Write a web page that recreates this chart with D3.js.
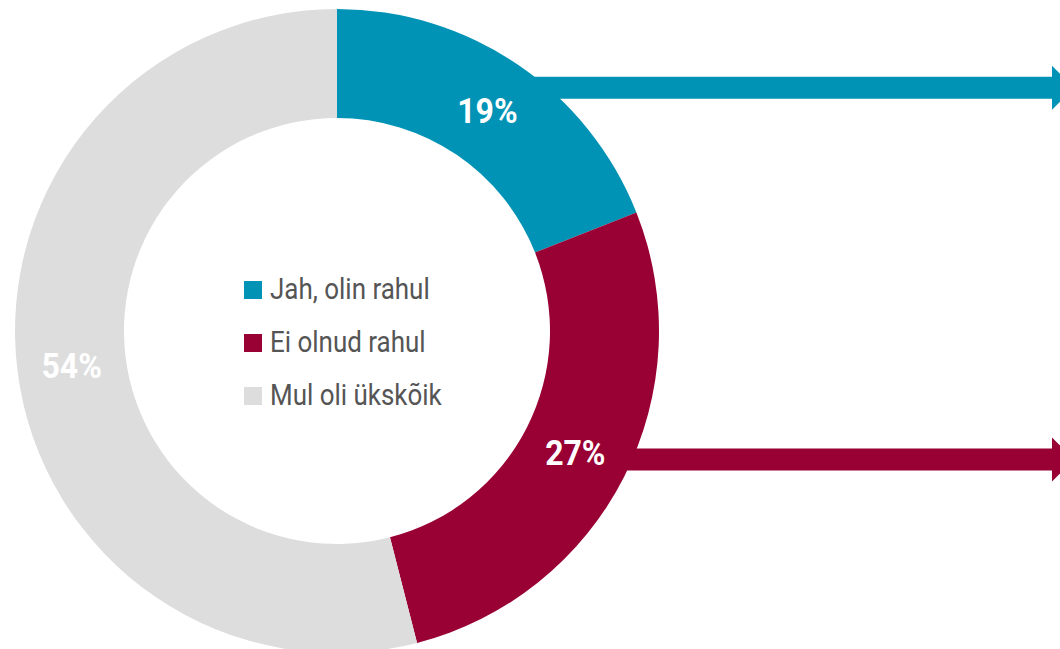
<!DOCTYPE html>
<html><head><meta charset="utf-8">
<script src="https://cdn.jsdelivr.net/npm/d3@7"></script>
<style>
html,body{margin:0;padding:0;background:#fff;}
svg{display:block;}
</style></head>
<body>
<svg id="chart" width="1060" height="649"></svg>
<script>
const categories = ["Jah, olin rahul", "Ei olnud rahul", "Mul oli ükskõik"];
const values = [19, 27, 54];
const colors = ["#0093b5", "#990033", "#dddddd"];
const arrowFor = [true, true, false];

const W = 1060, H = 649;
const cx = 337, cy = 331, rOuter = 322, rInner = 213;
const svg = d3.select("#chart");
const g = svg.append("g").attr("transform", `translate(${cx},${cy})`);

const pie = d3.pie().sort(null).value(d => d.v);
const data = pie(categories.map((c, i) => ({c, v: values[i], color: colors[i], arrow: arrowFor[i]})));
const arc = d3.arc().innerRadius(rInner).outerRadius(rOuter);
const labelArc = d3.arc().innerRadius((rInner + rOuter) / 2).outerRadius((rInner + rOuter) / 2);

g.selectAll("path.slice").data(data).join("path")
  .attr("class", "slice")
  .attr("d", arc)
  .attr("fill", d => d.data.color);

// arrows
const headStart = 1052 - cx;
const arrowOffsets = [-22, 7];
data.filter(d => d.data.arrow).forEach((d, k) => {
  const [lx, ly] = labelArc.centroid(d);
  const yc = ly + arrowOffsets[k];
  const half = 11, headHalf = 22;
  g.append("path")
    .attr("d", `M${lx},${yc - half}L${headStart},${yc - half}L${headStart},${yc - headHalf}L${headStart + 22},${yc}L${headStart},${yc + headHalf}L${headStart},${yc + half}L${lx},${yc + half}Z`)
    .attr("fill", d.data.color);
});

const fmt = d3.format(".0f");
g.selectAll("text.pct").data(data).join("text")
  .attr("class", "pct")
  .attr("transform", d => { const [x, y] = labelArc.centroid(d); return `translate(${x},${y}) scale(0.89,1)`; })
  .attr("text-anchor", "middle")
  .attr("dy", "0.36em")
  .attr("fill", "#fff")
  .attr("font-family", "Roboto, sans-serif")
  .attr("font-weight", "bold")
  .attr("font-size", 36)
  .text(d => fmt(d.data.v) + "%");

// legend
const leg = svg.append("g").attr("transform", "translate(244,281)");
const rows = leg.selectAll("g").data(data).join("g")
  .attr("transform", (d, i) => `translate(0,${i * 53})`);
rows.append("rect").attr("width", 18).attr("height", 18).attr("fill", d => d.data.color);
rows.append("text")
  .attr("transform", "translate(26,18) scale(0.895,1)")
  .attr("fill", "#555")
  .attr("font-family", "Roboto, sans-serif")
  .attr("font-size", 29)
  .text(d => d.data.c);
</script>
</body></html>
